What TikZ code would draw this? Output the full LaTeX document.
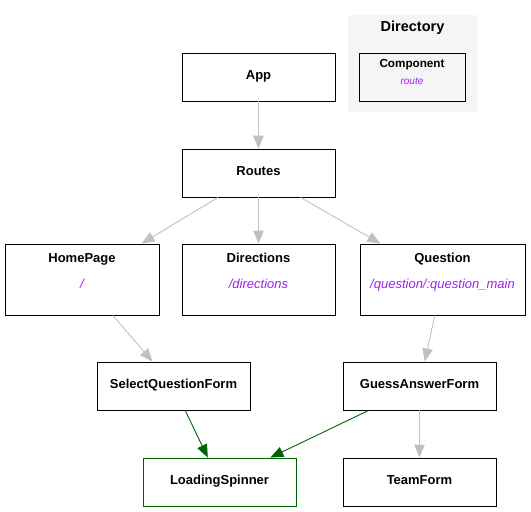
\documentclass[tikz,border=0pt]{standalone}
\usepackage{fontspec}
\setmainfont{Liberation Sans}
\usetikzlibrary{arrows.meta}
\definecolor{routecol}{HTML}{A020F0}
\definecolor{edgecol}{HTML}{C0C0C0}
\definecolor{spincol}{HTML}{006400}
\definecolor{dirbg}{HTML}{F5F5F5}

\tikzset{
  box/.style={draw=black, line width=0.9pt, fill=white, minimum width=153pt, minimum height=48pt, inner sep=0pt},
  title/.style={font=\fontsize{13}{15}\selectfont\bfseries, inner sep=0pt, anchor=base},
  route/.style={font=\fontsize{13}{15}\selectfont\itshape, text=routecol, inner sep=0pt, anchor=base},
  edge/.style={draw=edgecol, line width=0.9pt, -{Triangle[length=13pt,width=10.5pt]}},
  greenedge/.style={draw=spincol, line width=0.9pt, -{Triangle[length=13pt,width=10.5pt]}}
}

\begin{document}
\begin{tikzpicture}[x=1pt, y=-1pt]
\useasboundingbox (0,0) rectangle (531,512);

% legend
\node[fill=dirbg, minimum width=129pt, minimum height=97pt, inner sep=0pt] (dir) at (412.5,63.5) {};
\node[title, font=\fontsize{14.5}{16}\selectfont\bfseries] (dirt) at (412.5,31) {Directory};
\node[box, fill=dirbg, minimum width=106pt] (comp) at (412,77) {};
\node[title, font=\fontsize{11.7}{13}\selectfont\bfseries] (compt) at (412,67.3) {Component};
\node[route, font=\fontsize{10}{12}\selectfont\itshape] (compr) at (412,84) {route};

% components
\node[box] (app) at (258.5,77) {};
\node[title] (appt) at (258.5,79.5) {App};
\node[box] (routes) at (258.5,173) {};
\node[title] (routest) at (258.5,175.5) {Routes};

\node[box, minimum width=154pt, minimum height=71pt] (home) at (82,279.5) {};
\node[title] (homet) at (82,262.5) {HomePage};
\node[route] (homer) at (82,288.5) {/};
\node[box, minimum height=71pt] (dirs) at (258.5,279.5) {};
\node[title] (dirst) at (258.5,262.5) {Directions};
\node[route] (dirsr) at (258.5,288.5) {/directions};
\node[box, minimum width=165pt, minimum height=71pt] (quest) at (442.5,279.5) {};
\node[title] (questt) at (442.5,262.5) {Question};
\node[route] (questr) at (442.5,288.5) {/question/:question\_main};

\node[box] (select) at (173.5,386) {};
\node[title] (selectt) at (173.5,388.5) {SelectQuestionForm};
\node[box] (guess) at (419.5,386) {};
\node[title] (guesst) at (419.5,388.5) {GuessAnswerForm};

\node[box, draw=spincol] (spin) at (219.5,482) {};
\node[title] (spint) at (219.5,484.5) {LoadingSpinner};
\node[box] (team) at (419.5,482) {};
\node[title] (teamt) at (419.5,484.5) {TeamForm};

% edges
\draw[edge] (app) -- (routes);
\draw[edge] (routes) -- (home);
\draw[edge] (routes) -- (dirs);
\draw[edge] (routes) -- (quest);
\draw[edge] (home) -- (select);
\draw[edge] (quest) -- (guess);
\draw[edge] (guess) -- (team);
\draw[greenedge] (select) -- (spin);
\draw[greenedge] (guess) -- (spin);
\end{tikzpicture}
\end{document}
